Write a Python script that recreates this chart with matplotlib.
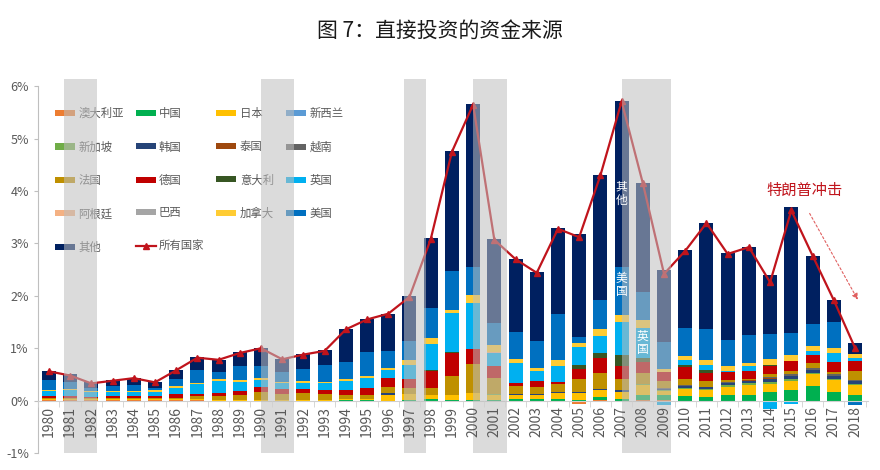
import numpy as np
import matplotlib
matplotlib.use("Agg")
import matplotlib.pyplot as plt
from matplotlib.patches import Patch
from matplotlib.lines import Line2D

plt.rcParams['font.family'] = ['Noto Sans CJK SC', 'DejaVu Sans']

years = list(range(1980, 2019))

# 各国占比 (%)，1980-2018
au = [.02, .02, .02, .02, .02, .02, .01, .01, 0, 0, 0, 0, 0, 0, 0, 0, 0, 0, 0, 0,
      0, 0, 0, 0, 0, -.07, .02, 0, .02, .01, 0, 0, 0, 0, 0, 0, 0, 0, 0]
cn = [0, 0, 0, 0, 0, 0, .01, 0, 0, 0, 0, 0, 0, 0, .01, .01, 0, .02, .04, .02,
      .02, .02, .03, .04, .03, .02, .05, .04, .08, .10, .08, .07, .10, .10, .16, .21, .28, .17, .10]
jp = [.01, .01, .01, .01, .01, .01, .02, .02, .02, .02, .02, .02, .02, .02, .02, .02, .11, .10, .06, .08,
      .12, .08, .08, .06, .12, .12, .13, .12, .19, .08, .14, .14, .17, .20, .16, .17, .22, .22, .20]
nz = [0, 0, 0, 0, 0, 0, 0, 0, 0, 0, 0, 0, 0, 0, 0, 0, 0, 0, 0, 0,
      0, 0, 0, 0, 0, 0, 0, 0, 0, 0, 0, 0, 0, 0, 0, 0, 0, 0, 0]
sg = [0, 0, 0, 0, 0, 0, 0, 0, 0, 0, 0, 0, 0, 0, 0, 0, 0, 0, 0, 0,
      0, .03, 0, 0, 0, 0, 0, 0, .02, .01, .02, .02, .02, .03, .03, .03, .03, .03, .02]
kr = [0, 0, 0, 0, 0, 0, 0, 0, 0, 0, 0, 0, 0, 0, 0, 0, .03, 0, 0, 0,
      0, 0, .02, .03, .02, .03, .03, .04, 0, .03, .04, .03, .05, .05, .07, .07, .06, .06, .05]
th = [0, 0, 0, 0, 0, 0, 0, 0, 0, 0, 0, 0, 0, 0, 0, 0, 0, 0, 0, 0,
      0, 0, 0, 0, 0, 0, 0, 0, 0, 0, 0, 0, 0, .01, .01, 0, 0, 0, 0]
vn = [0, 0, 0, 0, 0, 0, 0, 0, 0, 0, 0, 0, 0, 0, 0, 0, 0, 0, 0, 0,
      0, 0, 0, 0, 0, 0, 0, 0, 0, .01, .01, .01, .01, .01, .02, .03, .03, .02, .03]
fr = [.02, .03, .02, .02, .02, .02, .02, .05, .07, .09, .14, .10, .12, .10, .07, .07, .13, .12, .14, .38,
      .56, .30, .15, .13, .14, .24, .29, .22, .22, .13, .12, .10, .04, .02, .06, .06, .10, .05, .16]
de = [.03, .02, .02, .03, .04, .04, .06, .05, .06, .08, .10, .10, .08, .08, .11, .14, .17, .18, .32, .43,
      .29, .24, .06, .11, .05, .19, .29, .24, .20, .18, .24, .15, .16, .14, .16, .19, .16, .18, .19]
it = [0, 0, 0, 0, 0, 0, 0, 0, 0, 0, 0, 0, 0, 0, 0, 0, 0, 0, .03, .01,
      0, 0, 0, 0, 0, .09, .10, .21, .08, 0, .03, .06, 0, 0, .02, 0, 0, 0, 0]
uk = [.10, .12, .09, .09, .08, .08, .13, .18, .22, .17, .14, .11, .12, .13, .16, .19, .15, .27, .50, .76,
      .88, .24, .37, .20, .31, .34, .32, .64, .58, -.08, .09, .10, .02, .10, -.15, -.07, .06, .18, .06]
ar = [0, 0, 0, 0, 0, 0, 0, 0, 0, 0, 0, 0, 0, 0, 0, 0, 0, 0, 0, 0,
      0, .02, 0, 0, 0, 0, 0, 0, 0, 0, 0, 0, 0, 0, 0, 0, 0, 0, 0]
br = [0, 0, 0, 0, 0, 0, 0, 0, 0, 0, 0, 0, 0, 0, 0, 0, 0, 0, 0, 0,
      0, 0, 0, 0, 0, 0, 0, 0, 0, 0, 0, 0, 0, 0, 0, 0, 0, 0, 0]
ca = [.03, .03, .02, .02, .02, .03, .03, .03, .04, .03, .03, .03, .03, .03, .04, .05, .04, .08, .11, .05,
      .15, .13, .08, .06, .11, .08, .13, .13, .15, .06, .08, .09, .10, .06, .10, .11, .10, .10, .08]
us = [.19, .12, .07, .09, .11, .05, .13, .25, .13, .27, .24, .19, .24, .32, .33, .45, .32, .37, .56, .75,
      .54, .43, .53, .50, .87, .10, .56, .91, .54, .51, .53, .60, .49, .53, .49, .42, .42, .49, -.08]
other = [.17, .15, .10, .11, .13, .10, .18, .24, .24, .26, .33, .25, .28, .28, .62, .62, .71, .85, 1.34, 2.28,
         3.11, 1.59, 1.38, 1.32, 1.64, 1.98, 2.39, 3.17, 2.07, 1.37, 1.50, 2.03, 1.65, 1.68, 1.12, 2.41, 1.31, .42, .21]
total = [.56, .48, .33, .38, .43, .35, .58, .82, .78, .91, 1.00, .79, .88, .95, 1.36, 1.55, 1.66, 1.98, 3.08, 4.75,
         5.65, 3.07, 2.70, 2.44, 3.28, 3.12, 4.30, 5.71, 4.15, 2.42, 2.86, 3.39, 2.80, 2.93, 2.26, 3.63, 2.77, 1.92, 1.01]

series = [
    ("澳大利亚", au, "#ED7D31"),
    ("中国", cn, "#00B050"),
    ("日本", jp, "#FFC000"),
    ("新西兰", nz, "#5B9BD5"),
    ("新加坡", sg, "#70AD47"),
    ("韩国", kr, "#264478"),
    ("泰国", th, "#9E480E"),
    ("越南", vn, "#636363"),
    ("法国", fr, "#BF9000"),
    ("德国", de, "#C00000"),
    ("意大利", it, "#375623"),
    ("英国", uk, "#00B0F0"),
    ("阿根廷", ar, "#F4B183"),
    ("巴西", br, "#A5A5A5"),
    ("加拿大", ca, "#FFCC33"),
    ("美国", us, "#0070C0"),
    ("其他", other, "#002060"),
]

# 衰退/危机阴影区间
bands = [(1980.7, 1982.25), (1990.0, 1991.55), (1996.72, 1997.8), (2000.0, 2001.6), (2007.0, 2009.33)]

fig = plt.figure(figsize=(8.8, 4.7), dpi=100)
ax = fig.add_axes([0.043, 0.036, 0.943, 0.796])

x = np.array(years)
pos_bot = np.zeros(len(years))
neg_bot = np.zeros(len(years))
for name, vals, color in series:
    v = np.array(vals, dtype=float)
    p = np.where(v > 0, v, 0)
    n = np.where(v < 0, v, 0)
    ax.bar(x, p, bottom=pos_bot, width=0.66, color=color, zorder=2, linewidth=0)
    ax.bar(x, n, bottom=neg_bot, width=0.66, color=color, zorder=2, linewidth=0)
    pos_bot += p
    neg_bot += n

ax.plot(x, total, color="#C0141C", lw=1.6, marker="^", ms=5, zorder=3)

# 图例按行排列：matplotlib 按列填充，所以先换成列顺序
handles = [Patch(facecolor=c, edgecolor="none") for _, _, c in series]
handles.append(Line2D([], [], color="#C0141C", lw=1.6, marker="^", ms=5))
labels = [n for n, _, _ in series] + ["所有国家"]
order = []
for col in range(4):
    order += list(range(col, len(labels), 4))
leg = ax.legend([handles[i] for i in order], [labels[i] for i in order], ncol=4,
                loc="upper left", bbox_to_anchor=(0.015, 0.935),
                frameon=False, fontsize=8.2, handlelength=1.75, handleheight=0.45,
                handletextpad=0.3, labelspacing=1.95, columnspacing=1.05, borderaxespad=0)
for t in leg.get_texts():
    t.set_color("#595959")
leg.set_zorder(5)

for a, b in bands:
    ax.axvspan(a, b, color="#bfbfbf", alpha=0.55, lw=0, zorder=6)

ax.text(2007, 3.95, "其\n他", color="white", fontsize=8.5, ha="center", va="center",
        linespacing=1.0, zorder=7)
ax.text(2007, 2.2, "美\n国", color="white", fontsize=8.5, ha="center", va="center",
        linespacing=1.0, zorder=7)
ax.text(2008, 1.1, "英\n国", color="white", fontsize=8.5, ha="center", va="center",
        linespacing=1.0, zorder=7)

ax.text(2015.6, 4.02, "特朗普冲击", color="#C0141C", fontsize=11, ha="center", va="center", zorder=7)
ax.annotate("", xy=(2018.2, 1.88), xytext=(2015.8, 3.62),
            arrowprops=dict(arrowstyle="-|>", color="#E06060", lw=0.8, ls=(0, (2, 2)),
                            mutation_scale=9), zorder=7)

for s in ["top", "right"]:
    ax.spines[s].set_visible(False)
ax.spines["left"].set_color("#bfbfbf")
ax.spines["left"].set_bounds(-1, 6)
ax.spines["bottom"].set_position(("data", 0))
ax.spines["bottom"].set_color("#d0d0d0")
ax.xaxis.set_zorder(8)

ax.set_xlim(1979.48, 2018.6)
ax.set_ylim(-1, 6.14)
ax.set_yticks(range(-1, 7))
ax.set_yticklabels([f"{v}%" for v in range(-1, 7)])
ax.set_xticks(years)
ax.set_xticklabels([str(y) for y in years])
ax.set_xticks(np.arange(1979.5, 2019, 1.0), minor=True)

ax.tick_params(axis="y", labelsize=9, colors="#595959", length=3, color="#bfbfbf")
ax.tick_params(axis="x", which="major", labelsize=10, colors="#595959", length=0, pad=4,
               labelrotation=90)
ax.tick_params(axis="x", which="minor", length=4, color="#d0d0d0")

fig.text(0.5, 0.935, "图 7：直接投资的资金来源", ha="center", va="center", fontsize=15, color="#1a1a1a")

fig.savefig("out.png", dpi=100)
